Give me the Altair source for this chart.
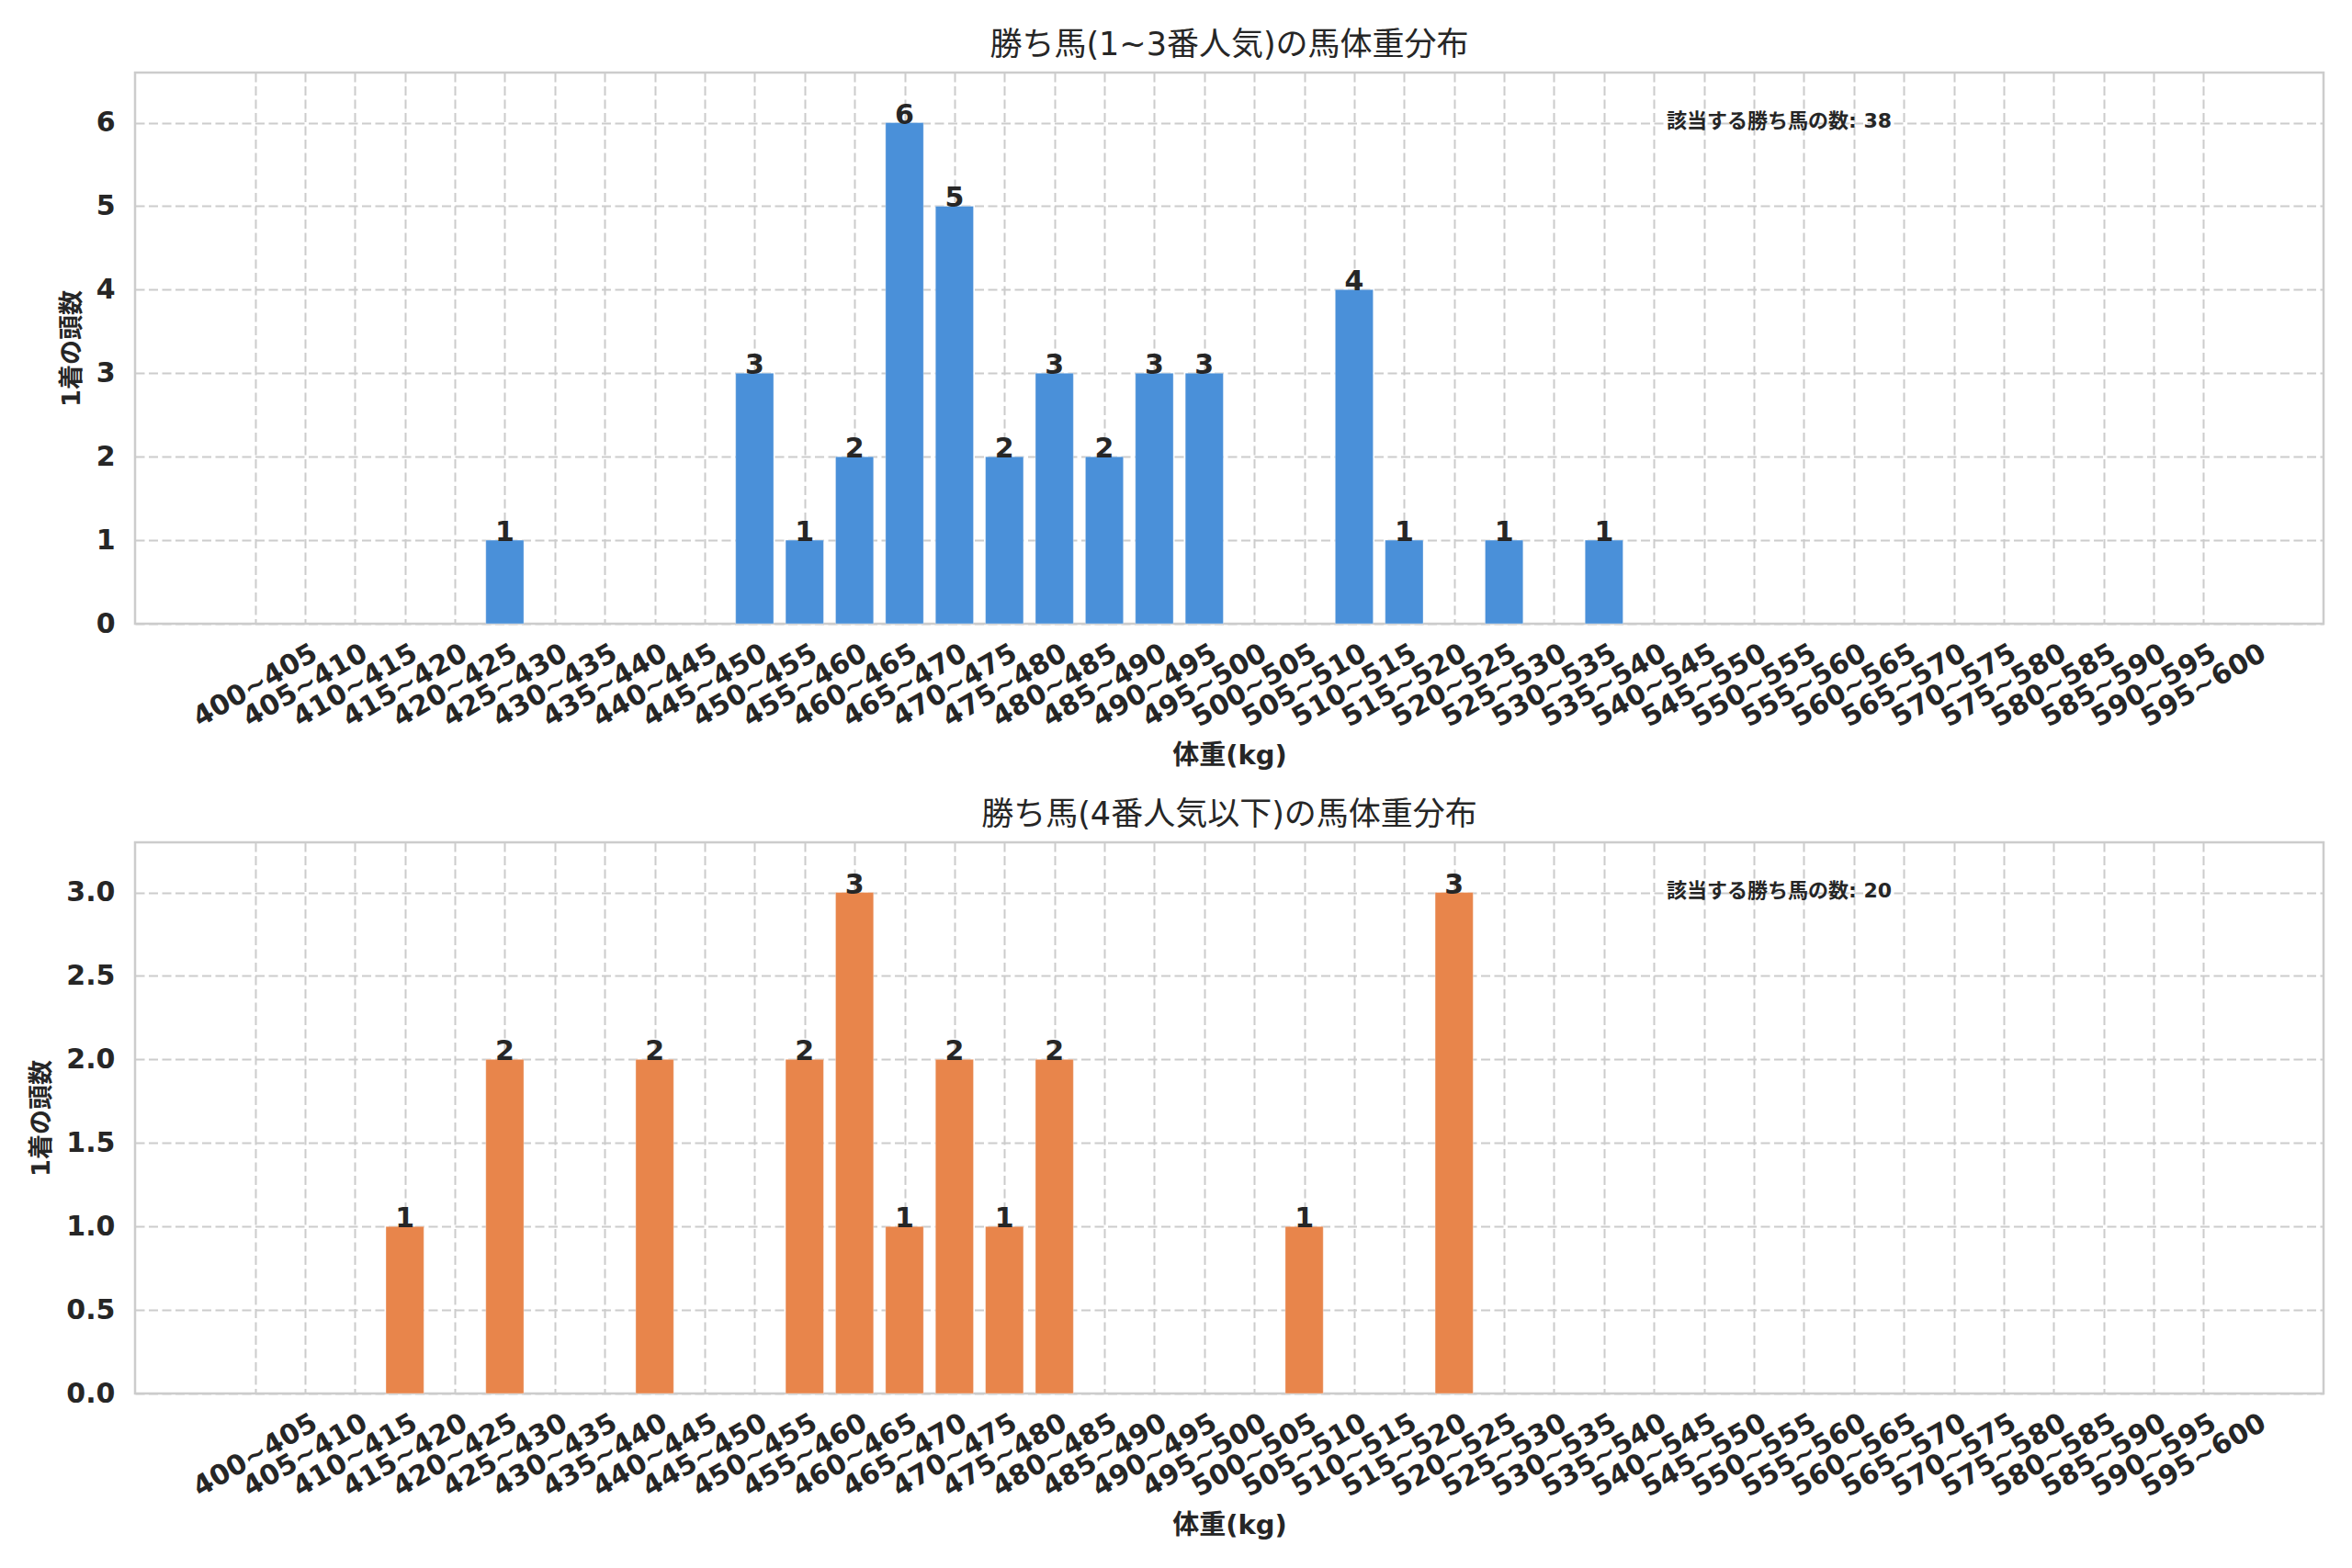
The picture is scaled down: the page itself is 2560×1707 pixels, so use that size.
import altair as alt
import pandas as pd

bins = [
    "400~405", "405~410", "410~415", "415~420", "420~425", "425~430", "430~435", "435~440",
    "440~445", "445~450", "450~455", "455~460", "460~465", "465~470", "470~475", "475~480",
    "480~485", "485~490", "490~495", "495~500", "500~505", "505~510", "510~515", "515~520",
    "520~525", "525~530", "530~535", "535~540", "540~545", "545~550", "550~555", "555~560",
    "560~565", "565~570", "570~575", "575~580", "580~585", "585~590", "590~595", "595~600",
]

counts_top = [0, 0, 0, 0, 0, 1, 0, 0, 0, 0,
              3, 1, 2, 6, 5, 2, 3, 2, 3, 3,
              0, 0, 4, 1, 0, 1, 0, 1, 0, 0,
              0, 0, 0, 0, 0, 0, 0, 0, 0, 0]
counts_bottom = [0, 0, 0, 1, 0, 2, 0, 0, 2, 0,
                 0, 2, 3, 1, 2, 1, 2, 0, 0, 0,
                 0, 1, 0, 0, 3, 0, 0, 0, 0, 0,
                 0, 0, 0, 0, 0, 0, 0, 0, 0, 0]

title_top = "勝ち馬(1~3番人気)の馬体重分布"
title_bottom = "勝ち馬(4番人気以下)の馬体重分布"
x_title = "体重(kg)"
y_title = "1着の頭数"
note_label = "該当する勝ち馬の数"

FONT = "DejaVu Sans, Noto Sans CJK JP, sans-serif"
TEXT = "#262626"
GRID = "#cccccc"

label_expr = "[" + ",".join("'%s'" % b for b in bins) + "][datum.value]"


def panel(counts, color, title, ymax, yvalues, yfmt):
    df = pd.DataFrame({"bin": bins, "idx": list(range(len(bins))), "count": counts})
    base = alt.Chart(df).transform_filter("datum.count > 0")
    xscale = alt.Scale(domain=[-2.4, len(bins) - 1 + 2.4], nice=False, zero=False)
    yscale = alt.Scale(domain=[0, ymax], nice=False)
    bars = base.transform_calculate(
        lo="datum.idx - 0.38", hi="datum.idx + 0.38"
    ).mark_rect(color=color, stroke="#ffffff", strokeWidth=0.6, strokeOpacity=0.6).encode(
        x=alt.X("lo:Q", scale=xscale, axis=alt.Axis(
            title=x_title, values=list(range(len(bins))), labelExpr=label_expr,
            labelAngle=-30, labelAlign="center", labelBaseline="middle",
            labelPadding=67, labelFontSize=30, labelFontWeight="bold",
            labelOverlap=False, labelFlush=False,
            titleFontSize=29, titleFontWeight="bold", titlePadding=12,
            grid=True, gridDash=[10, 4.5], gridColor=GRID, gridWidth=2,
            ticks=False, tickSize=0, domain=False,
        )),
        x2="hi:Q",
        y=alt.Y("count:Q", scale=yscale, axis=alt.Axis(
            title=y_title, values=yvalues, format=yfmt,
            labelPadding=22, labelFontSize=30, labelFontWeight="bold",
            titleFontSize=27, titleFontWeight="bold", titlePadding=12,
            grid=True, gridDash=[10, 4.5], gridColor=GRID, gridWidth=2,
            ticks=False, tickSize=0, domain=False,
        )),
        y2=alt.datum(0),
    )
    labels = base.mark_text(
        baseline="alphabetic", align="center", fontSize=30, fontWeight="bold",
        color=TEXT, font=FONT, dy=1,
    ).encode(
        x=alt.X("idx:Q", scale=xscale),
        y=alt.Y("count:Q", scale=yscale),
        text=alt.Text("count:Q", format="d"),
    )
    note_df = pd.DataFrame({"t": ["%s: %d" % (note_label, sum(counts))]})
    note = alt.Chart(note_df).mark_text(
        align="left", baseline="middle", fontSize=22, fontWeight="bold",
        color=TEXT, font=FONT,
    ).encode(x=alt.value(1667), y=alt.value(53), text="t:N")
    return alt.layer(bars, labels, note).properties(
        width=2382, height=600,
        title=alt.TitleParams(title, fontSize=35, fontWeight="normal", font=FONT,
                              color=TEXT, offset=12, anchor="middle"),
    )


top = panel(counts_top, "#4a90d9", title_top, 6.6, [0, 1, 2, 3, 4, 5, 6], "d")
bottom = panel(counts_bottom, "#e8854b", title_bottom, 3.3,
               [0, 0.5, 1.0, 1.5, 2.0, 2.5, 3.0], ".1f")

chart = alt.vconcat(top, bottom, spacing=29).properties(
    padding={"left": 22, "top": 22, "right": 10, "bottom": 10},
    background="white",
).configure_view(
    stroke=GRID, strokeWidth=2.5
).configure_axis(
    labelFont=FONT, titleFont=FONT, labelColor=TEXT, titleColor=TEXT,
).configure_title(font=FONT)

chart.save("out.html", embed_options={"renderer": "svg", "actions": False})
